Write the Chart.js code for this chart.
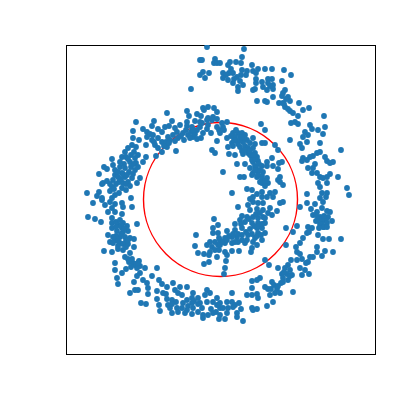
<!DOCTYPE html>
<html><head><meta charset="utf-8">
<style>html,body{margin:0;padding:0;background:#fff}#w{width:400px;height:400px}</style>
<script src="https://cdn.jsdelivr.net/npm/chart.js@4/dist/chart.umd.min.js"></script>
</head><body><div id="w"><canvas id="c" width="400" height="400"></canvas></div>
<script>
const axisMin=0, axisMax=309;
const circleCentre=[[154.5,154.5]];
const circleRadius=77;
const upperLeft=[[141,307],[134,294],[136,294],[149,295],[148,291],[151,291],[137,282],[143,281],[134,279],[139,276],[125,265],[137,246],[142,247],[148,246],[138,244],[151,242],[121,243],[101,241],[131,240],[135,238],[123,238],[147,237],[142,236],[151,235],[70,232],[88,233],[86,228],[106,233],[129,233],[121,232],[134,232],[141,234],[146,234],[67,223],[77,225],[81,222],[84,220],[92,225],[96,222],[99,227],[103,228],[109,226],[111,222],[107,219],[102,217],[114,229],[121,228],[126,227],[134,227],[141,225],[145,221],[137,221],[131,224],[151,227],[153,224],[117,221],[122,219],[127,217],[131,215],[124,216],[118,214],[112,216],[109,213],[67,216],[73,214],[81,217],[87,219],[86,214],[80,209],[89,209],[92,206],[96,212],[100,212],[104,214],[101,207],[96,202],[90,198],[110,203],[146,204],[149,201],[151,213],[66,209],[70,207],[62,206],[59,202],[68,202],[72,199],[56,197],[60,197],[65,199],[46,195],[69,196],[80,197],[64,192],[70,191],[77,192],[38,187],[41,185],[33,180],[47,189],[49,184],[54,187],[59,186],[65,187],[69,184],[63,182],[56,181],[49,179],[52,177],[59,177],[47,174],[53,172],[62,172],[66,176],[71,171],[74,176],[57,171],[36,170],[37,171],[46,167],[56,166],[60,164],[44,163],[53,161],[21,161],[33,162],[31,158],[36,156],[46,156],[65,156],[49,159]];
const upperRight=[[178,305],[176,297],[175,291],[170,292],[164,292],[162,289],[154,291],[186,289],[192,285],[187,283],[199,285],[206,285],[190,281],[218,284],[225,279],[167,281],[163,281],[157,281],[176,284],[181,283],[180,279],[175,279],[171,277],[160,279],[157,276],[162,274],[167,271],[174,273],[177,269],[172,267],[172,263],[190,275],[190,271],[189,265],[187,264],[197,267],[202,275],[206,275],[216,273],[202,271],[207,269],[201,264],[207,265],[219,264],[217,261],[216,258],[222,257],[207,257],[191,253],[199,253],[201,252],[213,251],[217,251],[219,247],[224,253],[233,251],[222,245],[224,243],[243,246],[237,244],[227,241],[232,238],[258,238],[229,232],[225,231],[232,230],[195,230],[259,227],[244,229],[252,224],[246,225],[239,222],[242,219],[257,220],[237,217],[199,224],[224,214],[254,211],[241,212],[234,210],[236,206],[209,209],[212,204],[275,204],[251,201],[254,202],[247,198],[244,197],[259,197],[237,196],[236,193],[261,193],[241,194],[267,192],[264,191],[249,190],[242,186],[247,186],[246,181],[251,181],[254,177],[272,177],[264,180],[261,177],[257,176],[252,171],[261,171],[254,167],[281,166],[241,160],[283,159],[261,161],[256,161],[260,157],[254,156]];
const innerTop=[[161,232],[156,231],[157,227],[154,221],[161,216],[158,224],[167,221],[172,221],[176,221],[179,219],[169,217],[174,217],[181,214],[187,216],[189,210],[196,211],[199,211],[184,211],[177,212],[171,213],[166,211],[162,207],[167,208],[174,207],[179,208],[182,206],[176,203],[187,206],[189,201],[182,201],[177,200],[163,200],[169,199],[186,197],[191,197],[192,193],[187,192],[206,196],[201,192],[216,192],[213,191],[171,190],[179,190],[196,188],[189,188],[184,186],[201,188],[207,188],[212,185],[157,182],[187,181],[192,183],[197,182],[174,177],[178,177],[186,179],[191,177],[196,178],[201,176],[214,177],[212,174],[196,171],[202,171],[217,169],[199,168],[214,172],[181,165],[186,164],[166,161],[196,162],[191,160],[209,162],[204,161],[187,157],[196,157],[201,157],[207,157],[184,155]];
const lowerLeft=[[27,151],[36,154],[44,152],[49,150],[39,149],[56,151],[66,147],[57,147],[46,146],[42,142],[49,142],[56,140],[46,136],[46,131],[22,137],[29,135],[35,132],[71,130],[52,129],[57,131],[61,128],[56,126],[46,126],[51,123],[57,122],[62,123],[42,119],[44,112],[49,114],[54,117],[59,117],[64,116],[68,115],[47,111],[54,111],[62,110],[68,107],[52,105],[57,104],[38,103],[46,102],[64,101],[59,97],[62,95],[67,91],[73,93],[69,89],[49,91],[74,88],[71,86],[79,86],[60,85],[49,84],[56,81],[74,81],[91,86],[86,78],[71,78],[51,76],[77,74],[68,72],[81,71],[52,70],[93,74],[96,70],[107,71],[82,66],[69,64],[72,64],[64,61],[91,63],[101,67],[121,67],[114,67],[109,64],[82,60],[97,61],[112,61],[127,61],[116,59],[106,54],[101,55],[91,55],[141,64],[139,59],[144,61],[132,56],[151,56],[126,56],[121,54],[75,51],[80,50],[93,49],[102,49],[117,51],[126,51],[134,51],[141,52],[147,52],[111,46],[104,46],[94,43],[116,46],[121,44],[127,46],[136,46],[106,41],[112,42],[119,41],[126,40],[132,42],[137,39],[137,36],[142,39],[147,41],[154,46],[153,35],[151,49]];
const innerLow=[[148,135],[147,126],[152,129],[147,121],[152,121],[130,119],[153,116],[144,112],[149,112],[141,109],[129,108],[146,107],[152,109],[144,102],[149,104],[153,104],[132,101],[138,100],[143,99],[151,97],[143,92],[138,90],[172,147],[182,149],[187,152],[192,151],[197,151],[214,151],[217,152],[204,146],[211,143],[184,144],[191,145],[197,144],[202,141],[176,138],[181,137],[187,137],[192,136],[197,137],[206,139],[174,134],[179,132],[186,131],[192,131],[199,131],[169,130],[196,126],[191,126],[184,125],[161,123],[169,124],[176,126],[199,121],[192,121],[182,119],[176,119],[171,117],[166,117],[159,116],[154,114],[196,114],[189,116],[179,111],[172,112],[166,111],[159,111],[154,109],[191,109],[186,106],[166,103],[173,103],[185,102],[159,102],[161,99],[160,93],[159,86],[158,80]];
const lowerRight=[[231,128],[220,126],[227,122],[234,147],[241,151],[249,150],[257,152],[245,145],[251,142],[256,146],[261,143],[264,142],[247,139],[254,137],[262,137],[260,134],[256,131],[261,131],[266,133],[242,127],[246,126],[241,121],[243,122],[257,127],[252,119],[257,115],[263,115],[237,116],[275,115],[234,111],[230,107],[220,109],[251,107],[231,102],[251,102],[259,103],[267,102],[234,100],[256,98],[247,97],[244,97],[242,92],[231,94],[236,95],[225,94],[240,91],[203,89],[199,94],[212,86],[222,89],[219,86],[234,86],[239,84],[224,84],[216,80],[221,80],[226,79],[236,79],[243,80],[217,76],[222,74],[186,73],[194,76],[191,74],[215,71],[206,72],[208,69],[199,67],[202,65],[211,65],[186,66],[166,61],[209,61],[214,61],[204,59],[227,62],[181,59],[186,59],[191,60],[192,56],[207,52],[201,48],[154,51],[161,52],[166,52],[169,49],[173,51],[162,46],[157,46],[175,45],[167,47],[171,41],[161,41],[154,39],[159,35],[171,37],[177,33],[186,46],[187,44],[191,45]];
const denseOuter=[[52,182],[57,180],[61,179],[67,180],[50,170],[55,175],[60,170],[64,168],[58,190],[62,195],[68,190],[72,187],[54,192],[44,170],[41,173],[48,165],[50,118],[55,120],[60,113],[52,113],[57,110],[47,117],[62,114],[52,108],[60,107],[55,128],[50,127],[58,125],[50,132],[54,134],[63,92],[66,95],[70,90],[65,87],[72,91],[252,135],[256,135],[250,139],[258,138],[254,130],[250,133],[258,127],[253,126],[261,127],[88,212],[92,216],[98,208],[103,211],[115,218],[120,224],[125,222],[129,220],[135,216],[127,224],[142,229],[136,231],[145,45],[150,42],[128,53],[132,50],[110,52],[106,50],[122,48],[100,60],[205,65],[212,68],[217,72],[218,82],[224,78],[165,285],[168,275],[196,272],[204,268],[220,255],[218,250]];
const denseInner=[[186,194],[189,195],[184,199],[187,199],[193,190],[190,186],[194,184],[192,179],[196,175],[199,173],[194,172],[189,184],[181,204],[178,204],[172,210],[168,214],[174,214],[178,216],[165,218],[170,224],[176,217],[184,203],[190,140],[194,141],[188,128],[193,128],[186,120],[180,122],[172,120],[176,114],[181,114],[169,112],[163,118],[157,112],[161,114],[167,120],[175,130],[183,135],[196,130],[199,136],[191,118],[187,112],[195,119]];
const toPoint=p=>({x:p[0],y:p[1]});
const scatterPoints=[...upperLeft,...upperRight,...innerTop,...lowerLeft,...innerLow,...lowerRight,...denseOuter,...denseInner].map(toPoint);
const frameAxis=(pos,extra)=>({type:'linear',position:pos,min:axisMin,max:axisMax,display:true,
  ticks:{display:false},grid:{display:false,drawTicks:false},border:{display:true,color:'#000',width:1},...extra});
new Chart(document.getElementById('c'),{
  type:'scatter',
  data:{datasets:[
    {label:'points',data:scatterPoints,backgroundColor:'#1f77b4',borderWidth:0,pointRadius:2.9,order:1,xAxisID:'x',yAxisID:'y'},
    {label:'circle',data:circleCentre.map(toPoint),backgroundColor:'rgba(0,0,0,0)',borderColor:'#ff0000',borderWidth:1.4,order:2,xAxisID:'x',yAxisID:'y',
     pointRadius:ctx=>{const s=ctx.chart.scales.x;return s?s.getPixelForValue(circleRadius)-s.getPixelForValue(0):0;}}
  ]},
  options:{responsive:false,animation:false,
    layout:{padding:{left:66,top:45,right:25,bottom:46}},
    plugins:{legend:{display:false},tooltip:{enabled:false}},
    events:[],
    scales:{
      x:frameAxis('bottom'),y:frameAxis('left'),
      xTop:frameAxis('top'),yRight:frameAxis('right')
    }}
});
</script></body></html>
